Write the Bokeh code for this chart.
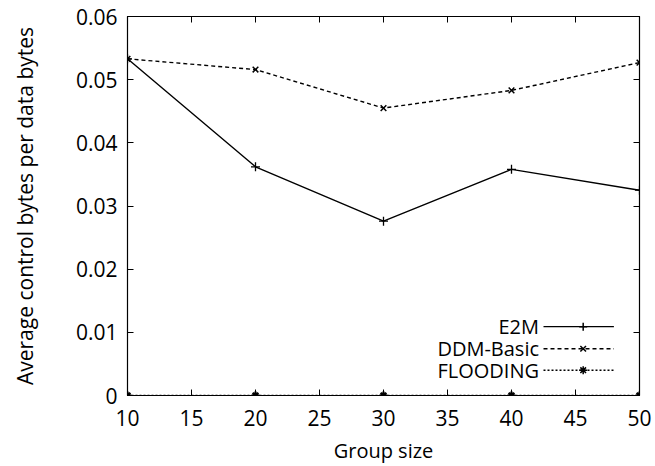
from bokeh.plotting import figure
from bokeh.models import LinearAxis, Range1d, FixedTicker, Label
from bokeh.embed import file_html
from bokeh.resources import INLINE

group_size = [10, 20, 30, 40, 50]
e2m = [0.0533, 0.0362, 0.0276, 0.0358, 0.0325]
ddm_basic = [0.0533, 0.0516, 0.0455, 0.0483, 0.0527]
flooding = [0.0, 0.0, 0.0, 0.0, 0.0]
x_ticks = [10, 15, 20, 25, 30, 35, 40, 45, 50]
y_ticks = [0, 0.01, 0.02, 0.03, 0.04, 0.05, 0.06]
y_tick_labels = {0: "0", 0.01: "0.01", 0.02: "0.02", 0.03: "0.03", 0.04: "0.04", 0.05: "0.05", 0.06: "0.06"}
series_names = ["E2M", "DDM-Basic", "FLOODING"]

FONT = "Open Sans"

p = figure(width=655, height=466, output_backend="svg", toolbar_location=None,
           x_range=Range1d(10, 50), y_range=Range1d(0, 0.06),
           min_border_left=127, min_border_right=16, min_border_top=16, min_border_bottom=71)
p.frame_width = 512
p.frame_height = 379
p.grid.visible = False
p.outline_line_color = "black"
p.outline_line_width = 1.2
p.background_fill_color = "white"
p.border_fill_color = "white"

for ax in p.xaxis + p.yaxis:
    ax.major_tick_in = 6
    ax.major_tick_out = 0
    ax.minor_tick_in = 0
    ax.minor_tick_out = 0
    ax.axis_line_color = "black"
    ax.major_label_text_font = FONT
    ax.major_label_text_font_size = "21px"
    ax.major_label_text_color = "black"
    ax.axis_label_text_font = FONT
    ax.axis_label_text_font_size = "20px"
    ax.axis_label_text_font_style = "normal"
    ax.axis_label_text_color = "black"

p.xaxis.ticker = FixedTicker(ticks=x_ticks)
p.yaxis.ticker = FixedTicker(ticks=y_ticks)
p.yaxis.major_label_overrides = y_tick_labels
p.xaxis.axis_label = "Group size"
p.yaxis.axis_label = "Average control bytes per data bytes"
p.yaxis.axis_label_text_font_size = "21px"
p.xaxis.major_label_standoff = 14
p.yaxis.major_label_standoff = 10
p.xaxis.axis_label_standoff = 8
p.yaxis.axis_label_standoff = 34

top = LinearAxis(ticker=FixedTicker(ticks=x_ticks), major_tick_in=6, major_tick_out=0,
                 minor_tick_in=0, minor_tick_out=0,
                 major_label_overrides={t: "" for t in x_ticks}, major_label_standoff=0)
right = LinearAxis(ticker=FixedTicker(ticks=y_ticks), major_tick_in=6, major_tick_out=0,
                   minor_tick_in=0, minor_tick_out=0,
                   major_label_overrides={t: "" for t in y_ticks}, major_label_standoff=0)
p.add_layout(top, "above")
p.add_layout(right, "right")

lw = 1.4
p.line(group_size, e2m, line_color="black", line_width=lw)
p.scatter(group_size, e2m, marker="cross", size=9, line_color="black", line_width=1.3)
p.line(group_size, ddm_basic, line_color="black", line_width=lw, line_dash="4 3")
p.scatter(group_size, ddm_basic, marker="x", size=8, line_color="black", line_width=1.5)
p.line(group_size, flooding, line_color="black", line_width=lw, line_dash="2 2")
p.scatter(group_size, flooding, marker="asterisk", size=8, line_color="black", line_width=2.2)

# custom legend (text on the left, sample on the right)
leg_y = [0.0109, 0.0074, 0.0040]
leg_x0, leg_x1, leg_xm = 42.5, 48.0, 45.6
dashes = ["solid", "4 3", "2 2"]
markers = ["cross", "x", "asterisk"]
for name, yy, d, m in zip(series_names, leg_y, dashes, markers):
    p.add_layout(Label(x=leg_x0 - 0.35, y=yy, text=name, text_align="right", text_baseline="middle",
                       text_font=FONT, text_font_size="20px", text_color="black"))
    p.line([leg_x0, leg_x1], [yy, yy], line_color="black", line_width=lw, line_dash=d)
    p.scatter([leg_xm], [yy], marker=m, size=8, line_color="black", line_width=1.5)

open("out.html", "w").write(file_html(p, INLINE))
